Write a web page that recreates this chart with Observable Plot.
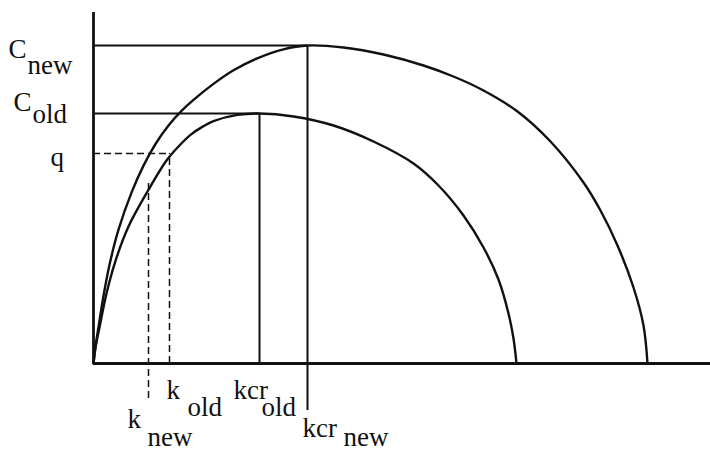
<!DOCTYPE html>
<html><head><meta charset="utf-8">
<script src="https://cdn.jsdelivr.net/npm/d3@7"></script>
<script src="https://cdn.jsdelivr.net/npm/@observablehq/plot@0.6"></script>
<style>
html,body{margin:0;padding:0;background:#fff;}
svg text{font-family:"Liberation Serif","Liberation Sans",Arial,sans-serif !important;}
</style>
</head><body><div id="chart"></div>
<script>
// Flow–density curves (k = density, q = flow)
const oldK = [0, 2, 6, 13, 22, 35, 54, 73, 85, 97, 110, 120, 144, 166, 200, 240, 280, 320, 345, 370, 390, 405, 415, 420, 423];
const oldQ = [0, 16, 36, 70, 102.7, 137, 172, 203, 217, 228.6, 237.4, 242.4, 248.6, 250, 247, 238, 222, 200, 178, 148, 116, 84, 50, 25, 0];
const newK = [0, 2, 5, 10, 16, 25, 38, 50, 62, 75, 88, 100, 120, 140, 165, 190, 214, 250, 290, 330, 360, 390, 424, 457, 490, 507, 524, 540, 550, 554];
const newQ = [0, 17, 36.5, 67.5, 98.7, 133.8, 170.9, 197.9, 219.5, 238, 252.6, 263.6, 279.6, 293.2, 305.7, 314.2, 318, 316, 309, 298, 287, 273, 252, 222, 181, 153, 118, 76, 38, 0];

// Key values
const cNew = 318, cOld = 250, qLevel = 210;
const kcrNew = 214, kcrOld = 166, kNew = 55, kOld = 76;
const kNewDashTop = 180;
const kMax = 617, qMax = 351;

// Labels: [main, subscript]
const labelCNew = ["C", "new"], labelCOld = ["C", "old"], labelQ = ["q", ""];
const labelKNew = ["k", "new"], labelKOld = ["k", "old"];
const labelKcrOld = ["kcr", "old"], labelKcrNew = ["kcr", "new"];

// ---- styles / offsets (pixels) ----
const ink = "#111";
const fontFamily = "Liberation Serif, Liberation Sans, Arial, sans-serif";
const fontSize = 27;
const ext = {kNew: 35, kcrNew: 47}; // extension below axis (1 unit = 1 px)

const oldCurve = oldK.map((k, i) => ({k, q: oldQ[i]}));
const newCurve = newK.map((k, i) => ({k, q: newQ[i]}));

const labels = [
  {x: 0, y: cNew, t: labelCNew, off: [-85, 12, -66, 28]},
  {x: 0, y: cOld, t: labelCOld, off: [-80, -3, -61, 9]},
  {x: 0, y: qLevel, t: labelQ, off: [-43, 12, 0, 0]},
  {x: kOld, y: 0, t: labelKOld, off: [-3, 35, 18, 52]},
  {x: kNew, y: 0, t: labelKNew, off: [-21, 64, -1, 82]},
  {x: kcrOld, y: 0, t: labelKcrOld, off: [-26, 35, 2, 52]},
  {x: kcrNew, y: 0, t: labelKcrNew, off: [-5, 73, 36, 82]}
];

const textMarks = [];
for (const L of labels) {
  textMarks.push(Plot.text([L], {x: "x", y: "y", text: d => d.t[0], dx: L.off[0], dy: L.off[1],
    textAnchor: "start", lineAnchor: "bottom", fontFamily, fontSize, fill: ink}));
  if (L.t[1]) textMarks.push(Plot.text([L], {x: "x", y: "y", text: d => d.t[1], dx: L.off[2], dy: L.off[3],
    textAnchor: "start", lineAnchor: "bottom", fontFamily, fontSize, fill: ink}));
}

const solidH = [{y: cNew, x1: 0, x2: kcrNew}, {y: cOld, x1: 0, x2: kcrOld}];
const solidV = [{x: kcrOld, y1: 0, y2: cOld}, {x: kcrNew, y1: -ext.kcrNew, y2: cNew}];
const dashH = [{y: qLevel, x1: 0, x2: kOld}];
const dashV = [{x: kNew, y1: -ext.kNew, y2: kNewDashTop}, {x: kOld, y1: 0, y2: qLevel}];

const chart = Plot.plot({
  width: 710, height: 452,
  marginLeft: 93, marginRight: 0, marginTop: 12, marginBottom: 89,
  x: {domain: [0, kMax], axis: null},
  y: {domain: [0, qMax], axis: null},
  style: {background: "#fff", overflow: "visible"},
  marks: [
    Plot.ruleY(dashH, {y: "y", x1: "x1", x2: "x2", stroke: ink, strokeWidth: 1.5, strokeDasharray: "7,4"}),
    Plot.ruleX(dashV, {x: "x", y1: "y1", y2: "y2", stroke: ink, strokeWidth: 1.5, strokeDasharray: "7,4"}),
    Plot.ruleY(solidH, {y: "y", x1: "x1", x2: "x2", stroke: ink, strokeWidth: 2}),
    Plot.ruleX(solidV, {x: "x", y1: "y1", y2: "y2", stroke: ink, strokeWidth: 2}),
    Plot.line(oldCurve, {x: "k", y: "q", curve: "catmull-rom", stroke: ink, strokeWidth: 2.4}),
    Plot.line(newCurve, {x: "k", y: "q", curve: "catmull-rom", stroke: ink, strokeWidth: 2.4}),
    Plot.ruleY([0], {x1: 0, x2: kMax, stroke: ink, strokeWidth: 2.8}),
    Plot.ruleX([0], {y1: 0, y2: qMax, stroke: ink, strokeWidth: 2.8}),
    ...textMarks
  ]
});
document.getElementById("chart").appendChild(chart);
</script>
</body></html>
